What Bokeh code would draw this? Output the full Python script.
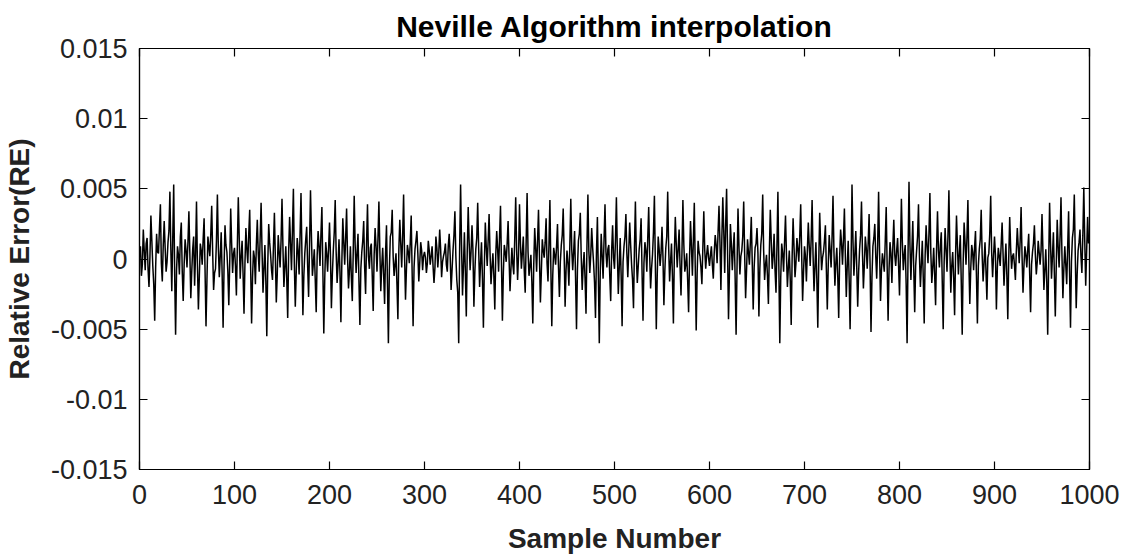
from bokeh.plotting import figure
from bokeh.models import FixedTicker, LinearAxis, Range1d, ColumnDataSource
from bokeh.embed import file_html
from bokeh.resources import INLINE

# Relative error per sample (units of 1e-3), samples 0..999, read/
re_milli = [
    0.3,0.9,-1.2,-0.4,2.1,0.6,-0.8,1.1,1.5,-0.7,-2.0,0.2,3.1,1.3,-0.5,-1.8,-4.4,-0.6,1.8,0.5,0.4,2.2,3.9,-0.3,-1.6,1.0,2.7,0.8,-0.9,-0.2,1.2,2.0,4.8,0.7,-2.3,1.5,5.3,-1.0,-5.4,-0.8,0.9,0.3,-1.1,1.6,2.6,-0.9,-3.0,-0.4,1.4,0.6,
    -0.6,1.2,3.4,0.4,-2.8,-0.9,0.7,1.6,-1.9,0.3,4.1,-0.5,-3.6,-1.2,1.1,0.6,-0.4,1.4,2.9,-0.8,-4.8,-1.5,1.6,0.9,0.2,1.7,3.8,0.5,-2.2,-1.0,-0.7,1.3,4.6,0.8,-1.3,0.2,1.9,-1.1,-4.9,-0.6,2.4,1.0,0.5,-0.9,-3.3,-0.2,3.6,1.1,-1.0,0.4,
    0.8,-0.5,-2.6,0.9,4.4,1.5,-1.4,0.2,1.3,-1.0,-3.9,-0.3,2.2,0.7,-0.3,1.8,3.5,-0.6,-4.6,-1.3,0.6,0.1,-1.8,1.0,2.8,0.4,-0.9,1.5,4.0,0.6,-2.4,-0.7,1.0,-1.6,-5.5,-0.4,2.5,1.2,0.3,-0.8,-1.5,0.9,3.3,0.1,-3.1,-1.1,1.7,0.5,-0.6,1.3,
    4.3,0.8,-2.0,-0.6,0.9,-1.4,-4.2,0.5,3.0,1.1,-0.8,2.1,5.0,-0.4,-3.4,-0.9,1.5,0.6,-1.1,1.7,4.7,0.3,-4.0,-1.2,0.4,1.4,2.3,-0.5,-2.7,1.0,4.9,1.6,-1.2,-0.3,0.7,-1.5,-3.8,0.2,2.0,0.9,-0.5,1.8,3.7,-0.7,-5.3,-1.4,1.2,0.4,-0.9,0.7,
    2.6,0.3,-3.5,-1.1,0.6,1.9,4.2,0.5,-1.7,-0.4,1.4,-0.9,-4.5,-0.2,2.9,1.2,-0.4,1.5,3.6,0.1,-2.1,-0.8,0.9,-1.3,-3.0,0.6,4.5,1.0,-1.0,0.4,1.8,-1.6,-4.7,-0.7,0.5,1.3,2.7,-0.6,-2.5,1.1,3.9,0.2,-0.7,0.8,1.1,-1.2,-3.7,0.3,2.2,0.9,
    -0.9,1.4,4.1,0.6,-2.3,-0.5,0.8,-1.1,-3.2,0.4,2.4,-1.7,-6.0,-0.8,1.6,1.9,3.5,0.2,-1.2,-0.4,0.4,-1.8,-4.3,0.7,2.8,1.1,-0.6,1.6,4.6,0.3,-2.9,-0.7,1.0,0.5,-0.3,1.2,3.1,-1.0,-4.8,-0.6,0.7,1.3,2.0,0.4,-1.6,-0.3,1.2,0.6,-0.8,0.2,
    0.5,0.1,-1.0,-0.3,1.3,0.6,-0.4,0.2,0.9,-0.5,-1.7,-0.6,1.6,0.8,-0.6,0.4,2.1,0.7,-1.3,-0.2,0.2,0.5,1.1,-0.4,-0.9,0.9,1.8,0.3,-2.2,-0.8,0.6,1.7,3.4,0.2,-1.5,-2.4,-6.0,0.8,5.3,1.0,-2.6,-0.5,1.9,-0.9,-4.1,0.6,3.7,1.2,-0.8,0.5,
    2.4,0.6,-3.4,-0.9,0.7,1.5,4.0,0.8,-2.0,-0.3,1.2,-1.4,-4.9,-0.5,2.6,0.9,-0.5,1.3,3.2,0.4,-1.8,-0.6,0.4,-1.2,-3.6,0.3,2.0,0.7,-0.9,1.6,3.8,-0.2,-4.4,-1.0,1.0,0.5,-0.2,1.1,2.7,0.1,-2.3,-0.7,0.8,-0.4,-1.1,1.5,4.4,0.6,-1.5,0.3,
    3.9,1.1,-0.7,0.4,1.6,-0.8,-2.4,1.2,4.7,0.5,-1.2,-0.5,0.3,-1.6,-4.6,-0.4,2.2,0.8,-0.9,1.3,3.5,0.2,-3.1,-0.9,1.4,0.6,0.1,1.2,2.9,-0.3,-1.6,1.0,4.2,-0.6,-4.8,-1.2,0.8,0.3,-0.4,0.9,2.5,-0.5,-2.7,-0.2,1.0,1.7,3.6,0.4,-3.4,-0.8,
    0.6,-0.3,-1.9,1.0,4.3,0.7,-0.8,0.5,2.0,-1.3,-5.0,-0.7,1.3,1.8,3.3,0.1,-2.2,-0.5,0.5,-1.4,-3.9,0.9,4.6,0.6,-1.0,0.3,2.2,0.8,-0.3,-1.7,-4.2,0.4,3.0,-1.1,-6.0,-0.9,1.8,0.2,-1.4,1.4,3.9,0.5,-0.6,0.7,1.0,-1.2,-3.0,0.6,2.4,0.1,
    -0.7,1.3,4.4,0.5,-2.5,-0.6,1.5,-1.2,-4.8,-0.2,0.9,1.6,3.2,0.4,-1.3,0.6,2.6,1.0,-0.4,-1.5,-3.5,0.8,4.1,0.2,-1.7,-0.5,0.7,1.4,2.9,-0.9,-4.4,-0.3,1.2,0.6,-0.9,1.5,3.7,0.3,-2.1,-0.7,0.3,1.9,4.5,-0.4,-5.0,-1.1,1.6,0.7,-0.5,0.4,
    2.3,0.2,-3.3,-0.8,0.8,1.6,4.8,0.9,-1.6,-0.2,1.1,-1.3,-4.6,0.3,3.0,1.1,-0.6,0.7,2.1,-0.5,-2.6,0.4,4.2,1.0,-0.9,-0.4,0.4,-1.5,-3.8,0.1,2.7,0.9,-1.2,1.3,4.0,-0.6,-5.1,-1.0,1.3,0.5,0.2,-0.6,-1.8,0.8,3.4,0.6,-0.7,0.3,1.0,0.1,
    -0.5,0.3,0.9,-0.4,-1.4,0.5,1.7,1.0,-0.3,1.9,3.8,1.2,-2.2,1.5,4.4,2.0,-1.0,2.4,5.0,0.6,-4.3,-0.9,2.5,1.1,-0.8,0.7,1.9,-1.4,-5.4,-0.5,3.6,0.9,-1.1,0.2,0.6,1.6,4.1,0.4,-2.8,-0.8,1.4,0.5,-0.4,1.2,3.0,-0.3,-3.6,-0.6,0.8,1.1,
    2.2,0.4,-4.1,-0.7,1.0,1.8,4.6,0.6,-1.5,-0.4,0.3,-1.2,-3.2,0.5,3.5,1.3,-0.7,0.2,1.8,-0.8,-2.4,0.9,4.8,-0.5,-6.0,-1.3,1.1,0.4,-0.9,1.2,3.1,0.3,-2.0,-0.6,0.6,-1.5,-4.7,0.2,2.9,0.8,-1.3,-0.3,1.5,0.7,-0.2,1.6,3.9,0.4,-3.0,-0.9,
    0.9,0.2,-1.6,0.6,2.6,0.9,-0.5,1.4,4.2,0.3,-2.3,-0.6,1.2,-1.5,-4.9,-0.2,3.3,1.0,-0.8,0.1,0.5,1.3,2.4,-0.7,-3.6,-0.4,1.7,0.6,-0.6,1.5,4.5,0.5,-1.9,-0.3,0.8,-1.2,-4.2,0.1,2.1,1.1,-0.4,1.4,3.6,0.2,-2.7,-0.5,1.3,-1.4,-5.0,-0.6,
    5.3,1.4,-1.2,0.3,2.0,-0.6,-3.4,-0.9,0.7,1.7,4.1,0.5,-2.1,-0.4,1.6,0.8,-0.7,1.1,3.2,-0.3,-5.2,-1.3,0.9,1.5,2.5,0.2,-1.4,1.0,4.8,0.6,-3.0,-0.8,0.4,-0.2,-0.9,1.3,3.7,-0.5,-4.4,-0.7,1.2,0.4,-1.7,0.9,2.8,0.3,-0.5,0.6,1.5,-0.4,
    -2.6,0.5,4.3,1.2,-0.8,0.3,1.0,-1.8,-6.0,0.4,5.5,1.0,-1.5,0.6,2.7,-0.7,-3.8,-0.5,0.6,1.6,3.9,0.2,-2.0,-0.4,1.3,-1.3,-4.6,0.3,2.4,0.9,-0.3,1.8,4.7,0.4,-1.7,-0.6,0.8,-1.1,-3.3,0.7,3.4,0.6,-0.6,1.0,1.9,-1.6,-5.0,-0.2,2.2,0.7,
    -0.9,1.6,4.9,0.7,-2.4,-0.5,0.5,-1.3,-4.0,0.2,3.1,0.9,-1.1,0.4,1.7,-1.6,-5.4,-0.3,2.6,1.2,-0.4,1.5,4.2,-0.2,-3.2,-0.7,1.0,0.5,-0.8,0.8,2.0,-1.2,-4.6,-0.5,0.7,1.4,3.5,0.3,-1.6,-0.3,1.2,-0.8,-2.9,0.1,0.4,1.8,4.5,0.5,-1.3,0.2,
    1.6,0.3,-3.6,-0.6,0.8,0.2,-0.5,1.0,2.6,0.4,-1.9,-0.3,1.1,-1.2,-4.3,0.1,3.0,0.8,-0.7,0.2,0.4,-0.4,-1.5,0.6,2.2,0.9,-0.3,1.3,3.7,0.2,-2.4,-0.5,0.9,0.3,-0.6,0.7,1.8,-1.0,-3.8,-0.4,0.5,1.1,2.4,0.3,-1.1,-0.2,1.3,0.5,-0.4,0.6,
    3.2,0.5,-2.2,-0.8,0.7,-1.6,-5.4,-0.3,4.0,1.1,-1.4,0.2,1.9,-1.0,-4.1,-0.5,2.8,0.9,-0.6,1.6,4.4,0.3,-2.8,-0.7,0.9,-0.4,-1.8,0.8,3.4,-0.9,-4.9,-0.2,1.5,2.1,4.6,0.4,-3.5,-1.1,0.6,1.2,2.1,0.2,-1.0,1.7,5.1,1.3,-1.9,0.6,3.0,1.1,
]
sample_numbers = list(range(len(re_milli)))
relative_error = [v / 1000.0 for v in re_milli]

x_ticks = [0, 100, 200, 300, 400, 500, 600, 700, 800, 900, 1000]
y_ticks = [-0.015, -0.01, -0.005, 0.0, 0.005, 0.01, 0.015]
y_tick_labels = ["-0.015", "-0.01", "-0.005", "0", "0.005", "0.01", "0.015"]

FONT = "Liberation Sans"

p = figure(width=1128, height=559, output_backend="svg", toolbar_location=None,
           x_range=Range1d(0, 1000), y_range=Range1d(-0.015, 0.015),
           min_border_left=139, min_border_right=39, min_border_top=48, min_border_bottom=90,
           title="Neville Algorithm interpolation")
p.background_fill_color = "white"
p.border_fill_color = "white"
p.outline_line_color = "black"
p.outline_line_width = 1.2
p.grid.visible = False

p.title.align = "center"
p.title.text_font = FONT
p.title.text_font_size = "30px"
p.title.text_font_style = "bold"
p.title.text_color = "black"
p.title.standoff = 11

src = ColumnDataSource(dict(x=sample_numbers, y=relative_error))
p.line("x", "y", source=src, line_color="black", line_width=1.5)

def style_axis(ax, show_labels=True):
    ax.axis_line_color = "black"
    ax.axis_line_width = 1.2
    ax.major_tick_in = 8
    ax.major_tick_out = 0
    ax.major_tick_line_color = "black"
    ax.major_tick_line_width = 1.2
    ax.minor_tick_line_color = None
    ax.major_label_text_font = FONT
    ax.major_label_text_color = "#222222"
    if show_labels:
        ax.major_label_text_font_size = "27px"
    else:
        ax.major_label_text_font_size = "1px"
        ax.major_label_text_color = None
        ax.major_label_standoff = 0

xa = p.xaxis[0]
xa.ticker = FixedTicker(ticks=x_ticks)
style_axis(xa)
xa.major_label_standoff = 15
xa.axis_label = "Sample Number"
xa.axis_label_text_font = FONT
xa.axis_label_text_font_size = "28px"
xa.axis_label_text_font_style = "bold"
xa.axis_label_text_color = "#222222"
xa.axis_label_standoff = 16

ya = p.yaxis[0]
ya.ticker = FixedTicker(ticks=y_ticks)
ya.major_label_overrides = {t: s for t, s in zip(y_ticks, y_tick_labels)}
style_axis(ya)
ya.major_label_standoff = 12
ya.axis_label = "Relative Error(RE)"
ya.axis_label_text_font = FONT
ya.axis_label_text_font_size = "28px"
ya.axis_label_text_font_style = "bold"
ya.axis_label_text_color = "#222222"
ya.axis_label_standoff = 13

top = LinearAxis(ticker=FixedTicker(ticks=x_ticks))
style_axis(top, show_labels=False)
p.add_layout(top, "above")
right = LinearAxis(ticker=FixedTicker(ticks=y_ticks))
style_axis(right, show_labels=False)
p.add_layout(right, "right")

open("out.html", "w").write(file_html(p, INLINE))
